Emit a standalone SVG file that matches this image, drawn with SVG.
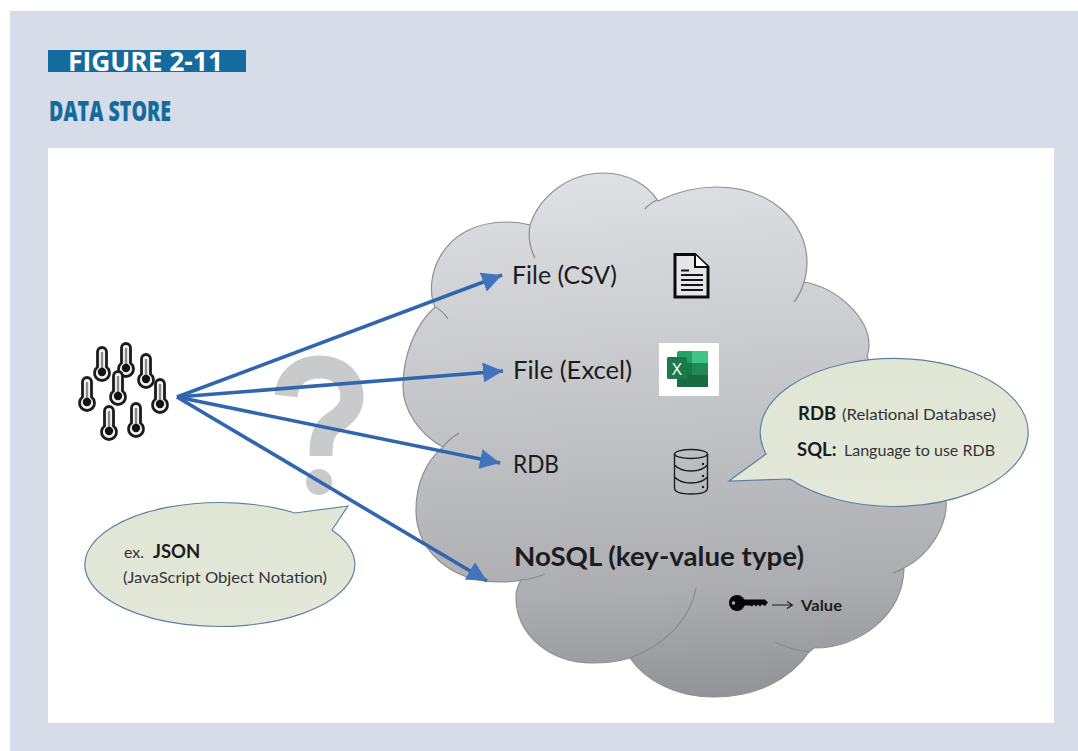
<svg xmlns="http://www.w3.org/2000/svg" width="1078" height="751" viewBox="0 0 1078 751">
<style>
.l{font-family:Lato,"Open Sans","Liberation Sans",sans-serif;fill:#1c1c1e}
.b{font-weight:700}
.s{fill:#33343a;font-size:16px}
.h{font-weight:700;font-size:18.500px}
.arrow{fill:none;stroke:#2f66ad;stroke-width:3.600;marker-end:url(#ah)}
.crease{fill:none;stroke:#8a8b8e;stroke-width:1.200}
.bub{stroke:#5f80a5;stroke-width:1.200}
.tk{fill:none;stroke:#1c1c1e}
</style>
<defs>
<linearGradient id="cg" gradientUnits="userSpaceOnUse" x1="640" y1="170" x2="670" y2="700">
<stop offset="0" stop-color="#dfe0e3"/><stop offset="0.5" stop-color="#c0c1c5"/><stop offset="0.8" stop-color="#acadb1"/><stop offset="1" stop-color="#929397"/>
</linearGradient>
<linearGradient id="bg" x1="0" y1="0" x2="0" y2="1">
<stop offset="0" stop-color="#e0e6d4"/><stop offset="1" stop-color="#e3e8d9"/>
</linearGradient>
<marker id="ah" markerUnits="userSpaceOnUse" markerWidth="22" markerHeight="22" refX="20" refY="10" orient="auto">
<path d="M0 0L20 10L0 20Z" fill="#4274bd"/>
</marker>
<g id="th">
<path d="M-4.500 -5V-20A4.500 4.500 0 0 1 4.500 -20V-5A7.500 7.500 0 1 1 -4.500 -5Z" fill="#f4f4f4" stroke="#1c1c1e" stroke-width="2.800"/>
<rect x="-1.200" y="-20" width="2.400" height="16" fill="#8b8b8b"/>
<circle r="4.200" fill="#111"/>
</g>
</defs>
<rect id="page" width="1078" height="751" fill="#fff"/>
<rect id="panel" x="10" y="11" width="1068" height="740" fill="#d6dce8"/>
<rect id="canvas" x="48" y="148" width="1006" height="575" fill="#fff"/>
<g id="figure-tag">
<rect x="48" y="50" width="198" height="22" fill="#156a9e"/>
<text x="68" y="71" font-family="'Open Sans','Liberation Sans',sans-serif" font-weight="700" font-size="26" fill="#fff" textLength="155" lengthAdjust="spacingAndGlyphs">FIGURE 2-11</text>
</g>
<g id="title"><text x="49" y="120.500" font-family="'Open Sans','Liberation Sans',sans-serif" font-weight="800" font-size="28" fill="#156a9e" textLength="122" lengthAdjust="spacingAndGlyphs">DATA STORE</text></g>
<g id="question"><path d="M286 396C288 376 303 367 320 367C339 367 352 379 352 397C352 409 343 417 333 423C324 429 321 437 321 456" fill="none" stroke="#c9cacc" stroke-width="23"/><circle cx="319" cy="482" r="13" fill="#c9cacc"/></g>
<g id="cloud">
<path fill="url(#cg)" stroke="#8f9093" stroke-width="1.200" d="M435 307C423 280 440 222 507 222C515 222 523 223 530 225C540 195 570 173 603 173C628 173 648 185 658 201C676 192 695 187 717 187C770 187 807 222 807 262C807 269 806 276 804 282C838 288 869 318 869 345C869 349 868 353 867 357L900 400L946 500C948 525 930 555 904 568C903 615 860 648 814 648L809 652C790 680 755 697 714 697C675 697 645 680 630 658C617 662 605 663 593 663C550 663 516 635 516 597C516 591 518 585 521 580C514 582 507 582 500 582C450 582 416 550 416 510C416 485 425 462 443 447C420 435 403 410 403 387C403 355 415 325 435 307Z"/>
<path class="crease" d="M435 307Q442 310 448 319M530 225Q527 242 535 258M657 200Q650 203 645 209M804 282Q801 293 794 302M904 568Q899 571 893 573M809 652Q790 650 775 642M696 588C690 620 665 645 630 658M521 580Q533 579 545 574M443 447Q449 439 459 433"/>
</g>
<g id="connectors">
<path class="arrow" d="M177 397L502 275"/>
<path class="arrow" d="M177 397L503 371"/>
<path class="arrow" d="M177 397L500 463"/>
<path class="arrow" d="M177 397L487 581"/>
</g>
<g id="sensors">
<use href="#th" x="102" y="372"/><use href="#th" x="126" y="368"/><use href="#th" x="146" y="379"/><use href="#th" x="87" y="402"/><use href="#th" x="118" y="396"/><use href="#th" x="160" y="404"/><use href="#th" x="109" y="431"/><use href="#th" x="136" y="428"/>
</g>
<g id="file-csv"><text class="l" x="512" y="284" font-size="25" textLength="105" lengthAdjust="spacingAndGlyphs">File (CSV)</text>
<path d="M675 254.500H695L708 267V297H675Z" fill="#e6e6e8" stroke="#0c0c0c" stroke-width="3"/><path d="M695 254.500V267H708" fill="#fff" stroke="#0c0c0c" stroke-width="2"/>
<path d="M681 270.500H689M681 275H703M681 280H703M681 285H703M681 290H703" stroke="#151515" stroke-width="1.800"/></g>
<g id="file-excel"><text class="l" x="513" y="379" font-size="25" textLength="119" lengthAdjust="spacingAndGlyphs">File (Excel)</text>
<rect x="659" y="343" width="60" height="53" fill="#fff"/>
<rect x="677" y="351" width="31" height="36" rx="2" fill="#21a366"/><rect x="692" y="351" width="16" height="12" fill="#3ec486"/><rect x="692" y="363" width="16" height="12" fill="#1f8a55"/><rect x="677" y="375" width="31" height="12" fill="#1b6b42"/><rect x="677" y="363" width="15" height="12" fill="#157a48"/>
<rect x="667" y="357" width="20" height="22" rx="1.500" fill="#1a7a4a"/><text x="677" y="374.500" text-anchor="middle" font-family="'Open Sans',sans-serif" font-size="17" fill="#fff">X</text></g>
<g id="rdb"><text class="l" x="513" y="473" font-size="25" textLength="46" lengthAdjust="spacingAndGlyphs">RDB</text>
<g class="tk" stroke-width="1.400"><ellipse cx="691" cy="454" rx="16.500" ry="4.500"/><path d="M674.500 454V488Q674.500 494 691 494Q707.500 494 707.500 488V454M674.500 465Q680 471 691 471Q702 471 707.500 465M674.500 477Q680 483 691 483Q702 483 707.500 477"/></g>
<circle cx="703" cy="464" r="1.200" fill="#1c1c1e"/><circle cx="703" cy="476" r="1.200" fill="#1c1c1e"/><circle cx="703" cy="487" r="1.200" fill="#1c1c1e"/></g>
<g id="nosql"><text class="l b" x="514" y="566" font-size="27" textLength="290" lengthAdjust="spacingAndGlyphs">NoSQL (key-value type)</text>
<circle cx="737" cy="603" r="8" fill="#050505"/><circle cx="733.500" cy="603" r="1.800" fill="#a9aaae"/>
<path d="M743 599.500H765L768 602.500L765 606L762 604.500L760 606.500L758 604.500L756 606.500L754 604.500L752 606.500L750 605.500H743Z" fill="#050505"/>
<path d="M772 605H792M787 601.500L792.500 605L787 608.500" fill="none" stroke="#1c1c1e" stroke-width="1.100"/>
<text class="l b" x="801" y="611" font-size="15.500" textLength="41" lengthAdjust="spacingAndGlyphs">Value</text></g>
<g id="bubble-rdb">
<path class="bub" fill="url(#bg)" d="M729 481L766 454A134 74 0 1 1 790 479Z"/>
<text class="l h" x="798" y="420">RDB</text><text class="l s" x="842" y="420" textLength="154" lengthAdjust="spacingAndGlyphs">(Relational Database)</text>
<text class="l h" x="797" y="456">SQL:</text><text class="l s" x="844" y="456" textLength="151" lengthAdjust="spacingAndGlyphs">Language to use RDB</text>
</g>
<g id="bubble-json">
<path class="bub" fill="url(#bg)" d="M348 506L295 513A135 62 0 1 0 332 530Z"/>
<text class="l s" x="124" y="558" textLength="20" lengthAdjust="spacingAndGlyphs">ex.</text><text class="l h" x="153" y="558">JSON</text>
<text class="l s" x="123" y="583" textLength="204" lengthAdjust="spacingAndGlyphs">(JavaScript Object Notation)</text>
</g>
</svg>
